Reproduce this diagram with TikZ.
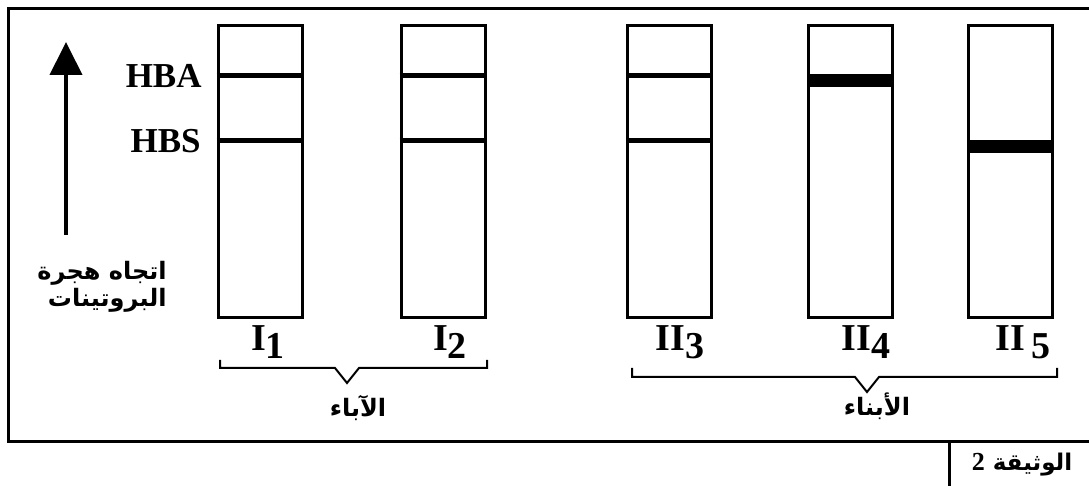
\documentclass[tikz,border=0pt]{standalone}
\usepackage{fontspec}
\setmainfont{Liberation Serif}
\newfontfamily\arabicfont[Script=Arabic]{DejaVu Sans}
\TeXXeTstate=1
\usetikzlibrary{arrows.meta}
\tikzset{
  frame/.style={line width=1.5pt},
  lane/.style={draw, line width=1.5pt, minimum width=42pt, minimum height=146pt, inner sep=0pt},
  band/.style={line width=2.5pt},
  bigband/.style={line width=6.5pt},
  brace/.style={line width=1pt},
  lanelab/.style={font=\fontsize{19}{22}\selectfont\bfseries},
  arlab/.style={font=\fontsize{12}{14}\selectfont\arabicfont\bfseries}
}
\begin{document}
\begin{tikzpicture}[x=0.5pt, y=-0.5pt, >=Triangle]
\useasboundingbox (0,0) rectangle (1089,486);
% frame
\draw[frame] (1089,9) -- (8,9) -- (8,442) -- (1089,442);
\draw[frame] (949,442) -- (949,486);
\node[arlab, font=\fontsize{11.5}{14}\selectfont\arabicfont\bfseries] (doc) at (1022,465)
  {\beginR الوثيقة {\rmfamily\bfseries\fontsize{13}{14}\selectfont 2}\endR};

% lanes
\foreach \n/\x in {l1/260, l2/443, l3/669.5, l4/850.5, l5/1010.5}
  \node[lane] (\n) at (\x,171.5) {};

\coordinate (hba) at (0,76);
\coordinate (hbs) at (0,141);
\foreach \n in {l1,l2,l3}
  {
    \draw[band] (\n.west |- hba) -- (\n.east |- hba);
    \draw[band] (\n.west |- hbs) -- (\n.east |- hbs);
  }
\coordinate (b4) at (0,80.5);
\coordinate (b5) at (0,146.5);
\draw[bigband] (l4.west |- b4) -- (l4.east |- b4);
\draw[bigband] (l5.west |- b5) -- (l5.east |- b5);

\node[anchor=east, inner sep=0pt, font=\fontsize{17.5}{20}\selectfont\bfseries] (ta) at (202,76) {HBA};
\node[anchor=east, inner sep=0pt, font=\fontsize{17.5}{20}\selectfont\bfseries] (tb) at (201,141) {HBS};

% migration arrow
\coordinate (abot) at (66,235);
\coordinate (atop) at (66,42);
\draw[->, line width=2pt, >={Triangle[width=16pt,length=16.5pt]}] (abot) -- (atop);
\node[arlab, anchor=east, align=right, inner sep=0pt, font=\fontsize{12}{13.5}\selectfont\arabicfont\bfseries]
  (mig) at (167,287) {\beginR اتجاه هجرة\endR\\\beginR البروتينات\endR};

% lane names
\node[lanelab] (n1) at (268,342) {I\raisebox{-4pt}{1}};
\node[lanelab] (n2) at (450,342) {I\raisebox{-4pt}{2}};
\node[lanelab] (n3) at (680,342) {II\raisebox{-4pt}{3}};
\node[lanelab] (n4) at (866,342) {II\raisebox{-4pt}{4}};
\node[lanelab] (n5) at (1023,342) {II\,\raisebox{-4pt}{5}};

% braces
\draw[brace] (220,360) -- (220,368) -- (335,368) -- (347,383) -- (359,368) -- (487,368) -- (487,360);
\draw[brace] (632,368) -- (632,377) -- (855,377) -- (867,392) -- (879,377) -- (1057,377) -- (1057,368);
\node[arlab] (par) at (358,408) {\beginR الآباء\endR};
\node[arlab] (chi) at (877,406) {\beginR الأبناء\endR};
\end{tikzpicture}
\end{document}
